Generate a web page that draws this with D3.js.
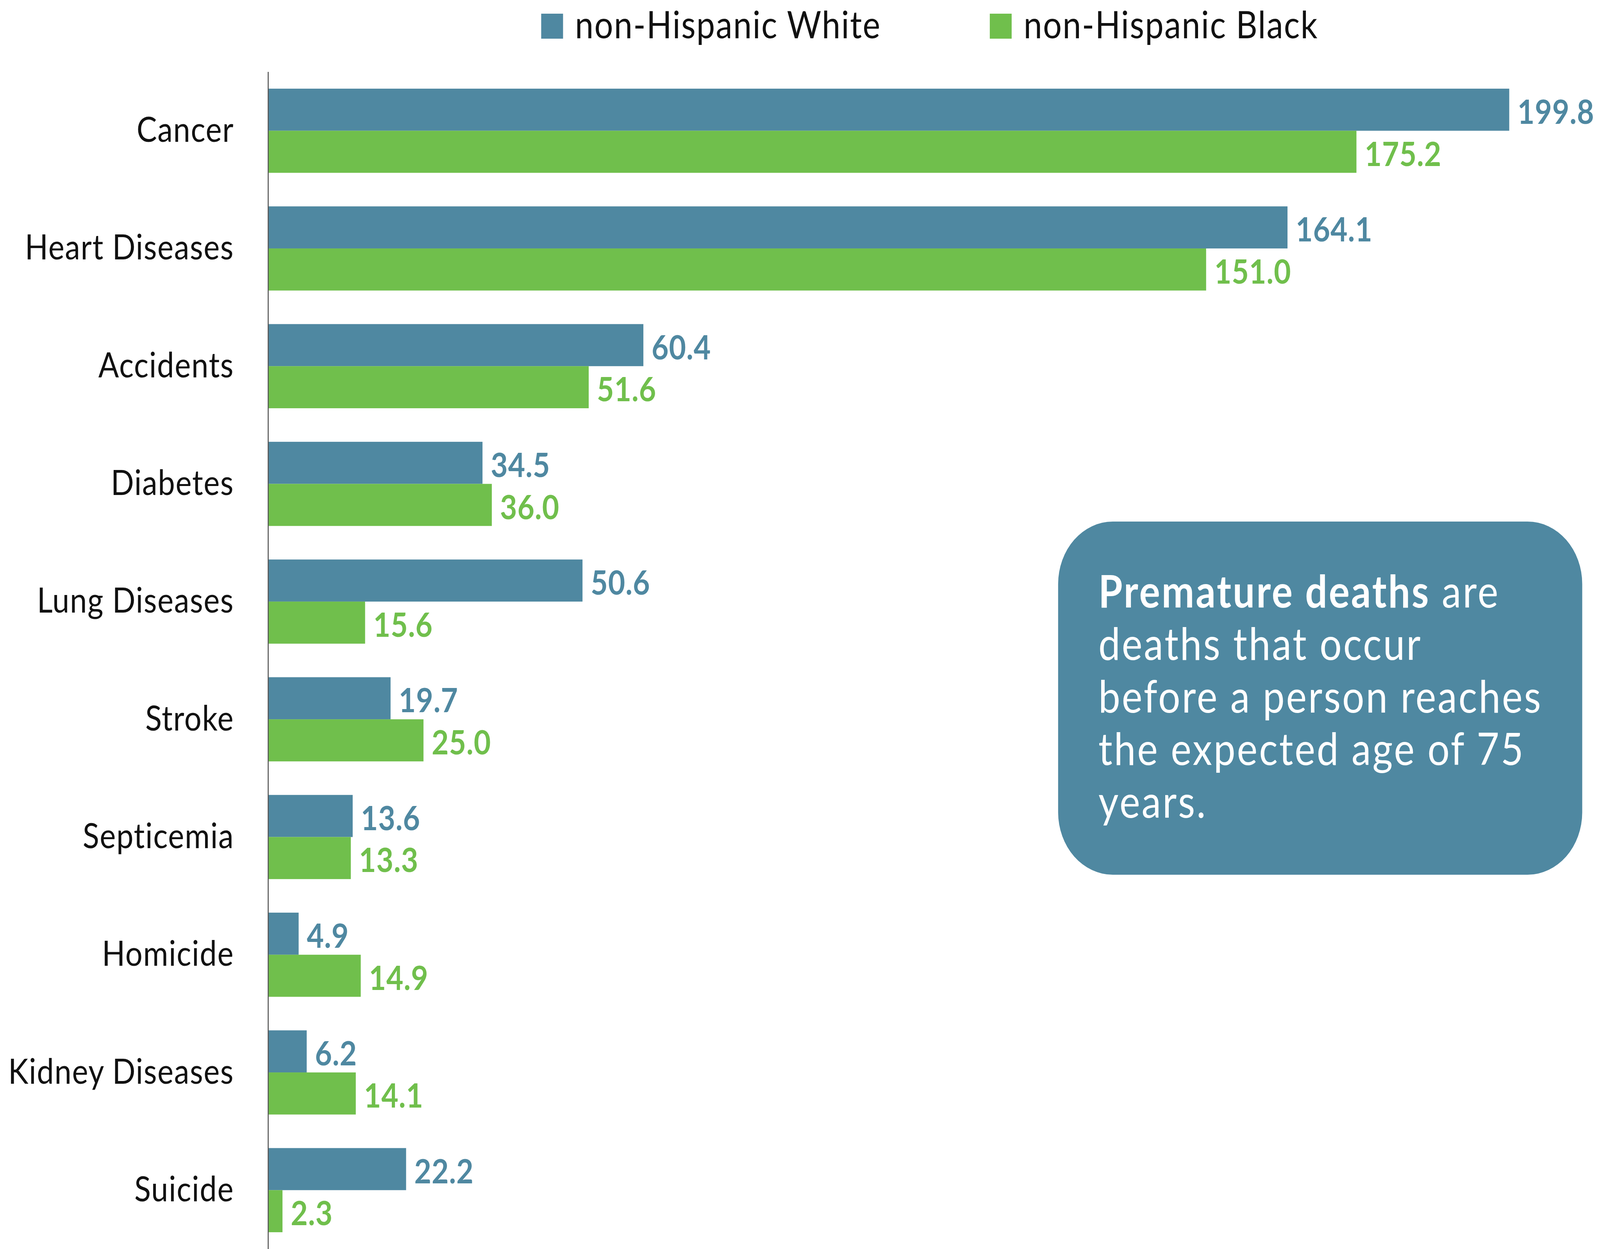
<!DOCTYPE html>
<html lang="en">
<head>
    <meta charset="UTF-8">
    <title>Premature deaths</title>
    <script src="https://d3js.org/d3.v7.min.js"></script>
    <style>
        html, body {margin: 0; padding: 0; background: #fff; overflow: hidden;}
        svg {display: block; width: 100vw; height: 100vh;}
        text {font-family: Lato, "Open Sans", sans-serif;}
    </style>
</head>
<body>
<script>
    const width = 4683;
    const height = 3197;

    const causes = ["Cancer", "Heart Diseases", "Accidents", "Diabetes", "Lung Diseases",
                    "Stroke", "Septicemia", "Homicide", "Kidney Diseases", "Suicide"];
    const white = [199.8, 164.1, 60.4, 34.5, 50.6, 19.7, 13.6, 4.9, 6.2, 22.2];
    const black = [175.2, 151.0, 51.6, 36.0, 15.6, 25.0, 13.3, 14.9, 14.1, 2.3];
    const seriesNames = ["non-Hispanic White", "non-Hispanic Black"];
    const colors = ["#4f88a1", "#70bf4c"];

    const noteBold = "Premature deaths";
    const noteLines = [" are", "deaths that occur", "before a person reaches",
                       "the expected age of 75", "years."];

    // viewBox so the drawing fills whatever the viewport really is
    const svg = d3.select("body").append("svg")
            .attr("viewBox", `0 0 ${width} ${height}`)
            .attr("preserveAspectRatio", "none");

    const x = d3.scaleLinear().domain([0, 200]).range([785, 4421]);

    const y = d3.scaleBand()
            .domain(causes)
            .range([184, 3197])
            .paddingInner(0.285)
            .paddingOuter(0.1425);

    const ySeries = d3.scaleBand()
            .domain([0, 1])
            .range([0, y.bandwidth()]);

    const rows = causes.map((c, i) => ({cause: c, values: [white[i], black[i]]}));

    // bars
    const groups = svg.selectAll("g.cause")
            .data(rows)
            .enter()
            .append("g")
            .attr("class", "cause")
            .attr("transform", d => `translate(0,${y(d.cause)})`);

    groups.selectAll("rect")
            .data(d => d.values)
            .enter()
            .append("rect")
            .attr("x", x(0))
            .attr("y", (d, i) => ySeries(i))
            .attr("width", d => x(d) - x(0))
            .attr("height", ySeries.bandwidth())
            .style("fill", (d, i) => colors[i]);

    groups.selectAll("text.value")
            .data(d => d.values)
            .enter()
            .append("text")
            .attr("class", "value")
            .attr("x", d => x(d) + 24)
            .attr("y", (d, i) => ySeries(i) + ySeries.bandwidth() / 2)
            .attr("dy", "0.42em")
            .style("font-size", "86px")
            .style("font-weight", "bold")
            .style("letter-spacing", "1px")
            .style("fill", (d, i) => colors[i])
            .text(d => d.toFixed(1));

    // category axis
    const yAxis = d3.axisLeft(y).tickSize(0).tickPadding(100);
    const axisG = svg.append("g")
            .attr("transform", `translate(${x(0)},0)`)
            .call(yAxis);
    axisG.select(".domain")
            .attr("d", `M0,184V${height}`)
            .style("stroke", "#555")
            .style("stroke-width", 3);
    axisG.selectAll(".tick text")
            .attr("dy", "0.32em")
            .style("font-family", "Lato, sans-serif")
            .style("font-size", "89px")
            .style("letter-spacing", "1.8px")
            .style("fill", "#111");

    // legend
    const legendX = [1584, 2897];
    const legend = svg.selectAll("g.legend")
            .data(seriesNames)
            .enter()
            .append("g")
            .attr("class", "legend")
            .attr("transform", (d, i) => `translate(${legendX[i]},35)`);
    legend.append("rect")
            .attr("width", 64).attr("height", 64)
            .style("fill", (d, i) => colors[i]);
    legend.append("text")
            .attr("x", 99).attr("y", 63)
            .style("font-size", "97px")
            .style("letter-spacing", "2.5px")
            .style("fill", "#111")
            .text(d => d);

    // note box
    svg.append("rect")
            .attr("x", 3097).attr("y", 1335)
            .attr("width", 1534).attr("height", 904)
            .attr("rx", 160).attr("ry", 160)
            .style("fill", colors[0]);

    const note = svg.append("text")
            .attr("x", 3215).attr("y", 1555)
            .style("font-size", "114px")
            .style("letter-spacing", "4.5px")
            .style("fill", "#fff");
    note.append("tspan").style("font-weight", "bold").text(noteBold);
    note.append("tspan").text(noteLines[0]);
    noteLines.slice(1).forEach(line => {
        note.append("tspan").attr("x", 3215).attr("dy", 134.5).text(line);
    });
</script>
</body>
</html>
